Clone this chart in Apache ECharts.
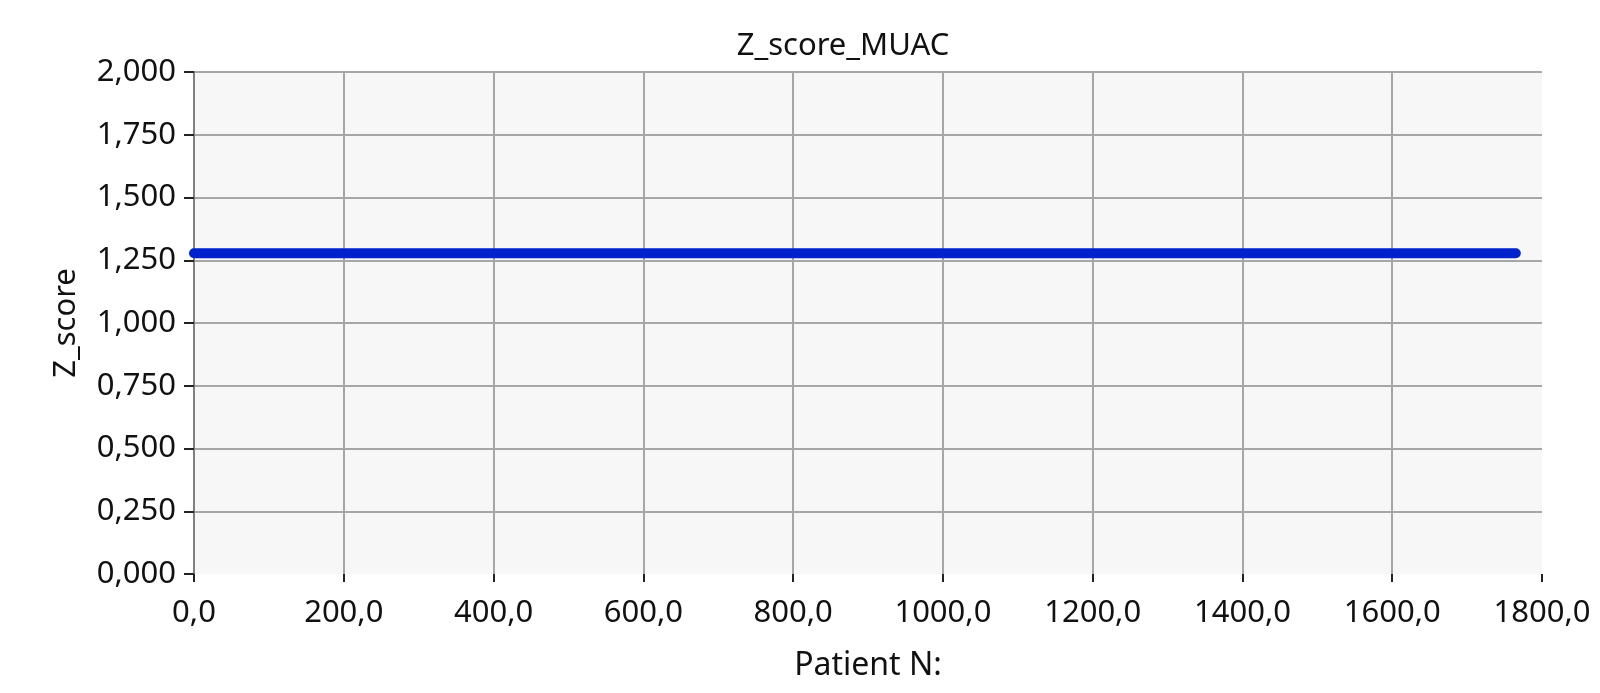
<!DOCTYPE html>
<html>
<head>
<meta charset="utf-8">
<script src="https://cdn.jsdelivr.net/npm/echarts@6/dist/echarts.min.js"></script>
<style>
  html, body { margin: 0; padding: 0; background: #fff; }
  #chart { width: 1600px; height: 693px; }
</style>
</head>
<body>
<div id="chart"></div>
<script>
// patient index range and the (constant) MUAC z-score
var patientN = [0, 1765];
var zScoreMuac = [1.278, 1.278];

var xTickLabels = ['0,0', '200,0', '400,0', '600,0', '800,0', '1000,0', '1200,0', '1400,0', '1600,0', '1800,0'];
var yTickLabels = ['0,000', '0,250', '0,500', '0,750', '1,000', '1,250', '1,500', '1,750', '2,000'];

var FONT = 'Noto Sans';
var TEXT = '#111';
var GRID = '#a6a6a6';

var points = patientN.map(function (x, i) { return [x, zScoreMuac[i]]; });

// split line colours per tick: hide the one at x=1800 and y=0
var xSplitColors = xTickLabels.map(function (l, i) { return i === xTickLabels.length - 1 ? 'rgba(0,0,0,0)' : GRID; });
var ySplitColors = yTickLabels.map(function (l, i) { return i === 0 ? 'rgba(0,0,0,0)' : GRID; });

var chart = echarts.init(document.getElementById('chart'));
chart.setOption({
    animation: false,
    title: {
        text: 'Z_score_MUAC',
        left: 838,
        top: 26,
        textAlign: 'center',
        textStyle: { fontFamily: FONT, fontSize: 31, fontWeight: 'normal', color: TEXT }
    },
    grid: {
        left: 194,
        right: 58,
        top: 72,
        bottom: 119,
        show: true,
        backgroundColor: '#f7f7f7',
        borderWidth: 0
    },
    xAxis: {
        type: 'value',
        min: 0,
        max: 1800,
        interval: 200,
        name: 'Patient N:',
        nameLocation: 'middle',
        nameGap: 71,
        nameTextStyle: { fontFamily: FONT, fontSize: 32, color: TEXT },
        axisLine: { show: false },
        axisTick: { show: true, length: 8, lineStyle: { color: '#222', width: 2 } },
        axisLabel: {
            margin: 19,
            fontFamily: FONT, fontSize: 31, color: TEXT,
            formatter: function (v) { return xTickLabels[Math.round(v / 200)]; }
        },
        offset: 5,
        splitLine: { show: true, lineStyle: { color: xSplitColors, width: 2 } }
    },
    yAxis: {
        type: 'value',
        min: 0,
        max: 2,
        interval: 0.25,
        name: 'Z_score',
        nameLocation: 'middle',
        nameGap: 112,
        nameTextStyle: { fontFamily: FONT, fontSize: 31, color: TEXT },
        axisLine: { show: true, lineStyle: { color: '#808080', width: 2 } },
        axisTick: { show: true, length: 10, lineStyle: { color: '#222', width: 2 } },
        axisLabel: {
            margin: 18,
            fontFamily: FONT, fontSize: 31, color: TEXT,
            formatter: function (v) { return yTickLabels[Math.round(v / 0.25)]; }
        },
        splitLine: { show: true, lineStyle: { color: ySplitColors, width: 2 } }
    },
    series: [{
        type: 'line',
        data: points,
        showSymbol: false,
        clip: true,
        lineStyle: { color: '#0022cc', width: 10, cap: 'round' }
    }]
});
</script>
</body>
</html>
